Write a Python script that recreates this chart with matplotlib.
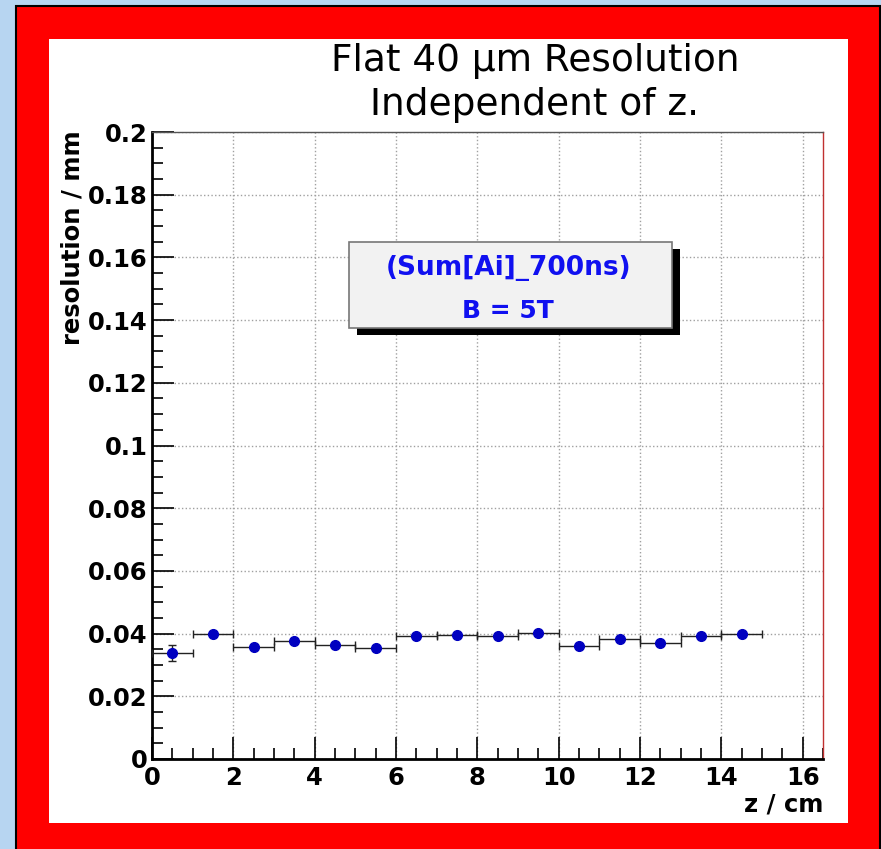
import matplotlib
matplotlib.use("Agg")
import matplotlib.pyplot as plt
from matplotlib.patches import Rectangle
from matplotlib.ticker import MultipleLocator

# resolution per 1 cm slice in z
z_centres = [0.5, 1.5, 2.5, 3.5, 4.5, 5.5, 6.5, 7.5, 8.5, 9.5, 10.5, 11.5, 12.5, 13.5, 14.5]
z_halfwidth = [0.5] * 15
resolution = [0.0339, 0.0398, 0.0356, 0.0376, 0.0365, 0.0353, 0.0392, 0.0397,
              0.0392, 0.0402, 0.0361, 0.0384, 0.0370, 0.0392, 0.0399]
res_err = [0.0025, 0.0006, 0.0005, 0.0005, 0.0005, 0.0005, 0.0005, 0.0005,
           0.0005, 0.0005, 0.0005, 0.0005, 0.0005, 0.0005, 0.0005]
ytick_vals = [0, 0.02, 0.04, 0.06, 0.08, 0.1, 0.12, 0.14, 0.16, 0.18, 0.2]
ytick_text = ["0", "0.02", "0.04", "0.06", "0.08", "0.1", "0.12",
              "0.14", "0.16", "0.18", "0.2"]

W, H = 881, 849
LAB_FONT = "DejaVu Sans"


def fx(px):
    return px / W


def fy(py):
    return 1 - py / H


fig = plt.figure(figsize=(W / 100, H / 100), dpi=100, facecolor="#b7d5f1")

# red slide frame with thin black outline, white canvas inside
fig.patches.append(Rectangle((fx(16), fy(852)), fx(864), fy(6) - fy(852),
                             transform=fig.transFigure, facecolor="#ff0000",
                             edgecolor="black", linewidth=1.5, zorder=-3))
fig.patches.append(Rectangle((fx(49), fy(823)), fx(799), fy(39) - fy(823),
                             transform=fig.transFigure, facecolor="white",
                             edgecolor="none", zorder=-2))

ax = fig.add_axes([fx(152), fy(759), fx(823) - fx(152), fy(132) - fy(759)])
ax.set_zorder(1)
ax.set_facecolor("white")

ax.errorbar(z_centres, resolution, xerr=z_halfwidth, yerr=res_err, fmt="o",
            color="#0000c0", markersize=7, ecolor="#222222", elinewidth=1.0,
            capsize=3, capthick=1.0, zorder=3)

ax.set_xlim(0, 16.5)
ax.set_ylim(0, 0.2)
ax.xaxis.set_major_locator(MultipleLocator(2))
ax.xaxis.set_minor_locator(MultipleLocator(0.5))
ax.yaxis.set_minor_locator(MultipleLocator(0.005))
ax.set_yticks(ytick_vals)
ax.set_yticklabels(ytick_text)

ax.tick_params(which="both", direction="in", top=False, right=False,
               labelsize=17.5, colors="black", width=1.2)
ax.tick_params(which="major", length=16)
ax.tick_params(which="minor", length=8)
ax.tick_params(axis="x", pad=5)
ax.tick_params(axis="y", pad=3)
for lab in ax.get_xticklabels() + ax.get_yticklabels():
    lab.set_fontfamily(LAB_FONT)
    lab.set_fontweight("bold")

ax.grid(which="major", color="#a0a0a0", linestyle=":", linewidth=1.0)
ax.set_axisbelow(True)

ax.spines["left"].set_linewidth(2)
ax.spines["bottom"].set_linewidth(2)
ax.spines["top"].set_linewidth(1)
ax.spines["top"].set_color("#555555")
ax.spines["right"].set_linewidth(1)
ax.spines["right"].set_color("#c03030")

# axis titles, ROOT style: pinned to the axis ends
fig.text(fx(73), fy(130), "resolution / mm", rotation=90, ha="center", va="top",
         fontsize=17.5, fontweight="bold", family=LAB_FONT)
fig.text(fx(823), fy(805), "z / cm", ha="right", va="center",
         fontsize=17.5, fontweight="bold", family=LAB_FONT)

fig.text(fx(535), fy(83), "Flat 40 µm Resolution\nIndependent of z.",
         ha="center", va="center", fontsize=27, family="DejaVu Sans",
         linespacing=1.28)

# info box with drop shadow
fig.patches.append(Rectangle((fx(357), fy(335)), fx(323), fy(249) - fy(335),
                             transform=fig.transFigure, facecolor="black",
                             edgecolor="none", zorder=5))
fig.patches.append(Rectangle((fx(349), fy(328)), fx(323), fy(242) - fy(328),
                             transform=fig.transFigure, facecolor="#f2f2f2",
                             edgecolor="#777777", linewidth=1.2, zorder=6))
fig.text(fx(509), fy(268), "(Sum[Ai]_700ns)", ha="center", va="center",
         fontsize=19, fontweight="bold", color="#1010f0",
         family=LAB_FONT, zorder=7)
fig.text(fx(508), fy(311), "B = 5T", ha="center", va="center",
         fontsize=18, fontweight="bold", color="#1010f0",
         family=LAB_FONT, zorder=7)

fig.savefig("out.png", dpi=100, facecolor=fig.get_facecolor())
